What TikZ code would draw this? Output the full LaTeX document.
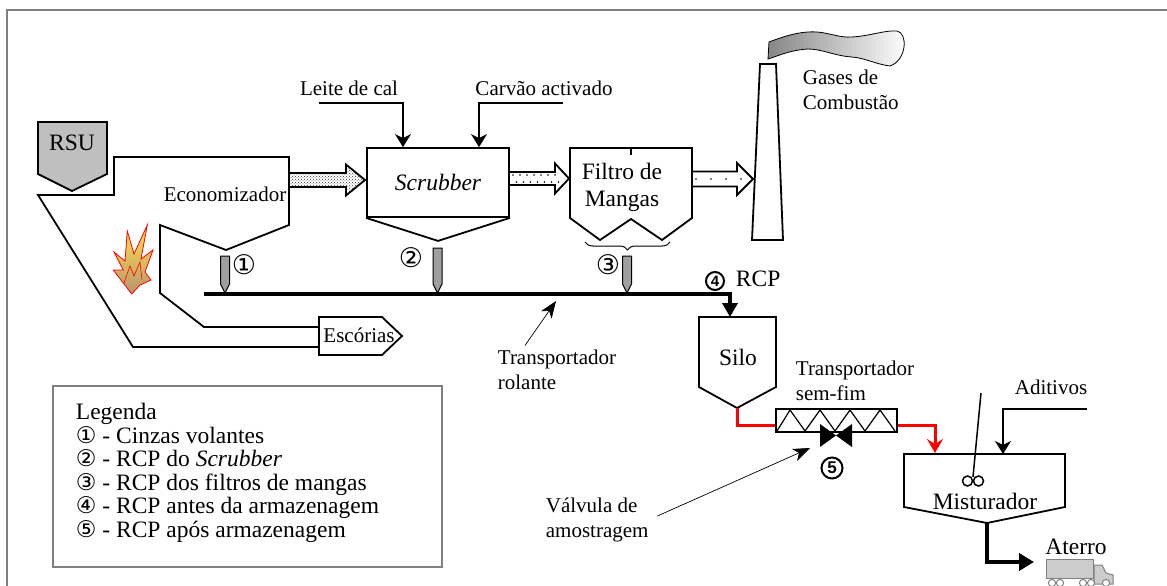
\documentclass[tikz,border=0pt]{standalone}
\usepackage{fontspec}
\setmainfont{Liberation Serif}
\setsansfont{Liberation Sans}
\newfontfamily\circfont{DejaVu Sans}
\usetikzlibrary{arrows.meta,patterns,decorations.pathreplacing}

\begin{document}
\begin{tikzpicture}[x = 1pt, y = -1pt, line width = 1.8pt,
    lbl/.style = {font = \fontsize{21}{24.5}\selectfont, inner sep = 0pt},
    big/.style = {font = \fontsize{23.5}{27}\selectfont, inner sep = 0pt},
    num/.style = {font = \circfont\fontsize{27}{27}\selectfont, inner sep = 0pt},
    bnum/.style = {circle, draw, line width = 2pt, inner sep = 0pt, minimum size = 18pt,
                   font = \sffamily\bfseries\fontsize{15}{15}\selectfont},
    feed/.style = {-{Stealth[length = 13pt, width = 16pt, inset = 4pt]}},
    pointer/.style = {line width = 0.7pt, -{Stealth[length = 17pt, width = 13pt, inset = 5pt]}},
    probe/.style = {draw, fill = gray!75, line width = 1pt},
    redpipe/.style = {red, line width = 3pt}]
  \useasboundingbox (0,0) rectangle (1167,586);
  \draw[gray, line width = 2pt] (1167,10) -- (7,10) -- (7,586);

  % furnace and feed hopper
  \draw[fill = gray!50] (38,122) -- (107,122) -- (107,174) -- (72,191) -- (38,174) -- cycle;
  \node[big] (rsu) at (72,143) {RSU};
  \draw (319,327) -- (204,327) -- (160,293) -- (160,225) -- (226,250) -- (289,225) -- (289,157)
        -- (114,157) -- (114,195) -- (38,195) -- (133,347) -- (319,347);
  \draw[fill = white] (319,317) -- (382,317) -- (402,336) -- (382,355) -- (319,355) -- cycle;
  \node[lbl] (esc) at (359,335) {Escórias};
  \node[lbl] (econ) at (225,194) {Economizador};
  \draw[red, line width = 0.8pt, top color = orange!30!yellow!70!white, bottom color = brown!80!black!70]
        (131.7,294) -- (113.3,270) -- (123.3,270) -- (114,252) -- (125,261) -- (127.3,231)
        -- (134,254) -- (147.3,225) -- (141,259) -- (153,250) -- (145,272)
        -- (151,280) -- (140,285) -- cycle;
  \draw[red, line width = 0.6pt] (124,283) -- (130,266) -- (134,276) -- (140,262) -- (142,280);

  % gas line
  \draw[pattern = crosshatch dots, pattern color = black!80]
        (289,173) -- (346,173) -- (346,164.5) -- (365,180) -- (346,195.5) -- (346,187) -- (289,187) -- cycle;
  \node[big, draw, fill = white, minimum width = 142pt, minimum height = 69pt,
        font = \fontsize{23.5}{27}\selectfont\itshape] (scrub) at (438,182.5) {Scrubber};
  \draw (scrub.south west) -- ([yshift = -23pt]scrub.south) -- (scrub.south east);
  \node[lbl] (leite) at (349,88) {Leite de cal};
  \node[lbl] (carvao) at (544,88) {Carvão activado};
  \coordinate (leiteIn) at (319,103);
  \coordinate (carvaoIn) at (563,103);
  \draw[feed] (leiteIn) -| ([xshift = -35pt]scrub.north);
  \draw[feed] (carvaoIn) -| ([xshift = 41pt]scrub.north);

  \draw[fill = white] (509,172) -- (555,172) -- (555,163.5) -- (569,178.5) -- (555,193.5) -- (555,185) -- (509,185) -- cycle;
  \foreach \x in {513,520,...,555} \fill (\x,175) circle[radius = 0.8pt] (\x+3.5,182) circle[radius = 0.8pt];

  \draw[fill = white] (570,218) -- (570,148) -- (692,148) -- (692,218) -- (662,240) -- (631,219) -- (600,240) -- cycle;
  \draw (631,148) -- (631,155);
  \node[big, align = center] (filtro) at (622,187) {Filtro de\\Mangas};
  \draw[line width = 1pt, decorate, decoration = {brace, mirror, amplitude = 8pt}] (585,242) -- (670,242);

  \draw[fill = white] (692,171.5) -- (737,171.5) -- (737,163) -- (753,179) -- (737,195) -- (737,186.5) -- (692,186.5) -- cycle;
  \foreach \x in {696,711,726,741} \fill (\x,179) circle[radius = 0.8pt];

  % stack and plume
  \draw[line width = 0.8pt, left color = gray!95, right color = white]
        (768,59) -- (769,42) .. controls (785,36) and (800,31) .. (817,32)
        .. controls (830,33) and (840,38) .. (852,37) .. controls (870,36) and (885,30) .. (897,31)
        .. controls (908,33) and (907,60) .. (890,66) .. controls (875,64) and (865,58) .. (852,57)
        .. controls (835,56) and (822,49) .. (808,49) .. controls (790,50) and (778,56) .. (768,59) -- cycle;
  \draw[fill = white] (752,240) -- (760,64) -- (776,64) -- (783,240) -- cycle;
  \node[lbl, anchor = west, align = left] (gases) at (802,90) {Gases de\\Combustão};

  % residue collection
  \foreach \x/\t in {225/256, 437.5/248, 627/256}
    \draw[probe] (\x-4.5,\t) -- (\x+4.5,\t) -- (\x+4.5,284) -- (\x,293) -- (\x-4.5,284) -- cycle;
  \coordinate (beltStart) at (204,294);
  \coordinate (siloTop) at (730,317);
  \draw[line width = 4.5pt, -{Triangle[length = 14pt, width = 15pt]}] (beltStart) -| (siloTop);
  \node[num] (n1) at (244,265) {①};
  \node[num] (n2) at (411,258) {②};
  \node[num] (n3) at (608,265) {③};
  \node[bnum] (n4) at (715,281) {4};
  \node[big, anchor = west] (rcp) at (735,279) {RCP};
  \node[lbl, anchor = west, align = left] (rolante) at (497,370) {Transportador\\rolante};
  \coordinate (beltMark) at (556,301);
  \draw[pointer] ([xshift = 28pt, yshift = 4pt]rolante.north west) -- (beltMark);

  % storage and stabilisation
  \draw[fill = white] (699,317) -- (776,317) -- (776,387) -- (737,408) -- (699,387) -- cycle;
  \node[big] (silo) at (738,357) {Silo};
  \coordinate (siloOut) at (737,408);
  \node[draw, minimum width = 121pt, minimum height = 23pt] (screw) at (836.5,420.5) {};
  \draw[line width = 1.2pt] (777,431) \foreach \k in {0,...,3} { -- ({790+30*\k},410) -- ({805+30*\k},431) };
  \draw[redpipe] (siloOut) |- ([yshift = -5pt]screw.west);
  \coordinate (valve) at (836,435.5);
  \fill (820,424) -- (820,447) -- (852,424) -- (852,447) -- cycle;
  \node[bnum, minimum size = 21pt, font = \sffamily\bfseries\fontsize{17}{17}\selectfont] (n5) at (832,468) {5};
  \node[lbl, anchor = west, align = left] (semfim) at (795,381) {Transportador\\sem-fim};
  \node[lbl, anchor = west, align = left] (valvula) at (545,520) {Válvula de\\amostragem};
  \coordinate (valveMark) at (810,448);
  \draw[pointer] ([xshift = 8pt, yshift = 4pt]valvula.east) -- (valveMark);

  \draw[fill = white] (904,454) -- (1065,454) -- (1065,507) -- (987,523) -- (904,507) -- cycle;
  \node[big] (mist) at (985,501) {Misturador};
  \draw[line width = 1.5pt] (981,393) -- (973,477);
  \draw[line width = 1.5pt] (967.5,481) circle[radius = 5pt] (978.5,481) circle[radius = 5pt];
  \coordinate (mixIn) at (935,453);
  \draw[redpipe, -{Stealth[length = 14pt, width = 16pt, inset = 5pt]}] ([yshift = -5pt]screw.east) -| (mixIn);
  \node[lbl] (aditivos) at (1051,387) {Aditivos};
  \coordinate (aditIn) at (1087,409);
  \coordinate (aditTop) at (1003,454);
  \draw[feed] (aditIn) -| (aditTop);

  % landfill
  \coordinate (mixOut) at (987,523);
  \coordinate (aterroIn) at (1034,562);
  \draw[line width = 4pt, -{Triangle[length = 15pt, width = 17pt]}] (mixOut) |- (aterroIn);
  \node[big] (aterro) at (1076,547) {Aterro};
  \draw[line width = 1pt, draw = gray, fill = gray!40] (1046,559) rectangle (1093,578);
  \draw[line width = 1pt, draw = gray, fill = gray!40] (1094,565) -- (1102,565) -- (1106,573) -- (1113,575)
        -- (1113,584) -- (1094,584) -- cycle;
  \foreach \x in {1052,1060,1083,1091,1106}
    \draw[line width = 1pt, draw = gray, fill = white] (\x,583) circle[radius = 3.6pt];

  % legend
  \draw[gray, line width = 1.2pt] (53,386) rectangle (442,567);
  \foreach \t [count = \i] in {{Legenda}, {{\circfont\fontsize{23}{23}\selectfont①} - Cinzas volantes},
      {{\circfont\fontsize{23}{23}\selectfont②} - RCP do \textit{Scrubber}},
      {{\circfont\fontsize{23}{23}\selectfont③} - RCP dos filtros de mangas},
      {{\circfont\fontsize{23}{23}\selectfont④} - RCP antes da armazenagem},
      {{\circfont\fontsize{23}{23}\selectfont⑤} - RCP após armazenagem}}
    \node[big, anchor = base west] (leg\i) at (75,{419.5 + 23.5*(\i-1)}) {\t};
\end{tikzpicture}
\end{document}
